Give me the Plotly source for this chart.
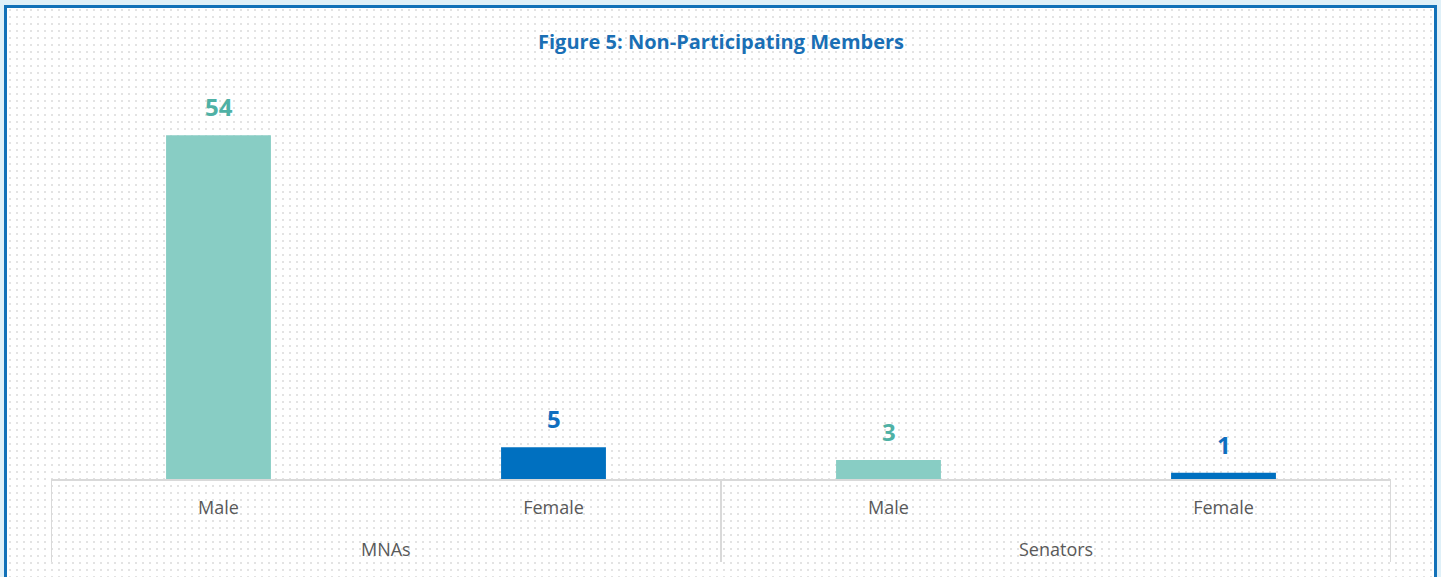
import base64
import plotly.graph_objects as go

# ---- data ----
groups = ["MNAs", "MNAs", "Senators", "Senators"]
genders = ["Male", "Female", "Male", "Female"]
values = [54, 5, 3, 1]
title_text = "Figure 5: Non-Participating Members"

# ---- styles ----
bar_colors = {"Male": "#88cdc4", "Female": "#0070c0"}
label_colors = {"Male": "#4fb1a5", "Female": "#0f6fbf"}
tick_color = "#595959"
line_color = "#d9d9d9"

W, H = 1441, 577
L, R, T, B = 51, 50, 97, 98
pw, ph = W - L - R, H - T - B


def py2paper(py):
    """pixel row (from top of figure) -> paper y fraction"""
    return (H - B - py) / ph


# background: light blue surround, white card with dotted pattern, blue border
svg = f'''<svg xmlns="http://www.w3.org/2000/svg" width="{W}" height="{H}" viewBox="0 0 {W} {H}">
<defs><pattern id="d" x="0" y="0" width="7" height="7" patternUnits="userSpaceOnUse">
<rect x="2" y="2" width="2" height="2" fill="#e3e3e3"/></pattern></defs>
<rect x="0" y="0" width="{W}" height="{H}" fill="#dff0f8"/>
<rect x="6" y="7" width="{W-12}" height="{H+20}" fill="#ffffff"/>
<rect x="6" y="7" width="{W-12}" height="{H+20}" fill="url(#d)"/>
<rect x="5.5" y="6.5" width="{W-11}" height="{H+20}" fill="none" stroke="#1271b8" stroke-width="3"/>
</svg>'''
src = "data:image/svg+xml;base64," + base64.b64encode(svg.encode()).decode()

idx = list(range(len(values)))

fig = go.Figure()
fig.add_trace(go.Bar(
    x=idx,
    y=values,
    marker=dict(color=[bar_colors[g] for g in genders], line=dict(width=0)),
    width=0.313,
    hoverinfo="skip",
    showlegend=False,
))

annotations = []
shapes = []
for i, (g, v) in enumerate(zip(genders, values)):
    annotations.append(dict(
        x=i, y=v, xref="x", yref="y", text=f"<b>{v}</b>", showarrow=False,
        yanchor="bottom", yshift=10,
        font=dict(family="Open Sans", size=24, color=label_colors[g]),
    ))

# group labels and dividers
unique_groups = []
for g in groups:
    if g not in unique_groups:
        unique_groups.append(g)
boundaries = []
for ug in unique_groups:
    members = [i for i, g in enumerate(groups) if g == ug]
    annotations.append(dict(
        x=sum(members) / len(members), y=py2paper(549), xref="x", yref="paper",
        text=ug, showarrow=False, yanchor="middle",
        font=dict(family="Open Sans", size=18, color=tick_color),
    ))
    boundaries.append(min(members) - 0.5)
boundaries.append(len(values) - 0.5)
for bx in boundaries:
    shapes.append(dict(
        type="line", xref="x", yref="paper", x0=bx, x1=bx,
        y0=0, y1=py2paper(562), line=dict(color=line_color, width=2),
    ))

annotations.append(dict(
    x=0.5, y=py2paper(42), xref="paper", yref="paper", text=f"<b>{title_text}</b>",
    showarrow=False, xanchor="center", yanchor="middle",
    font=dict(family="Open Sans", size=20, color="#1a6fb5"),
))

fig.update_layout(
    width=W, height=H,
    margin=dict(l=L, r=R, t=T, b=B, pad=0),
    paper_bgcolor="rgba(0,0,0,0)",
    plot_bgcolor="rgba(0,0,0,0)",
    annotations=annotations,
    shapes=shapes,
    images=[dict(
        source=src, xref="paper", yref="paper",
        x=-L / pw, y=(H - B) / ph, sizex=W / pw, sizey=H / ph,
        xanchor="left", yanchor="top", sizing="stretch", layer="below",
    )],
    xaxis=dict(
        range=[-0.5, len(values) - 0.5],
        tickmode="array", tickvals=idx, ticktext=genders,
        showline=True, linecolor=line_color, linewidth=2,
        showgrid=False, zeroline=False, ticks="", ticklabelstandoff=11,
        tickfont=dict(family="Open Sans", size=18, color=tick_color),
        fixedrange=True,
    ),
    yaxis=dict(
        range=[0, 60], visible=False, showgrid=False, zeroline=False, fixedrange=True,
    ),
)

fig.write_html(
    "out.html",
    config={"displayModeBar": False},
    post_script="document.body.style.margin='0';",
)
